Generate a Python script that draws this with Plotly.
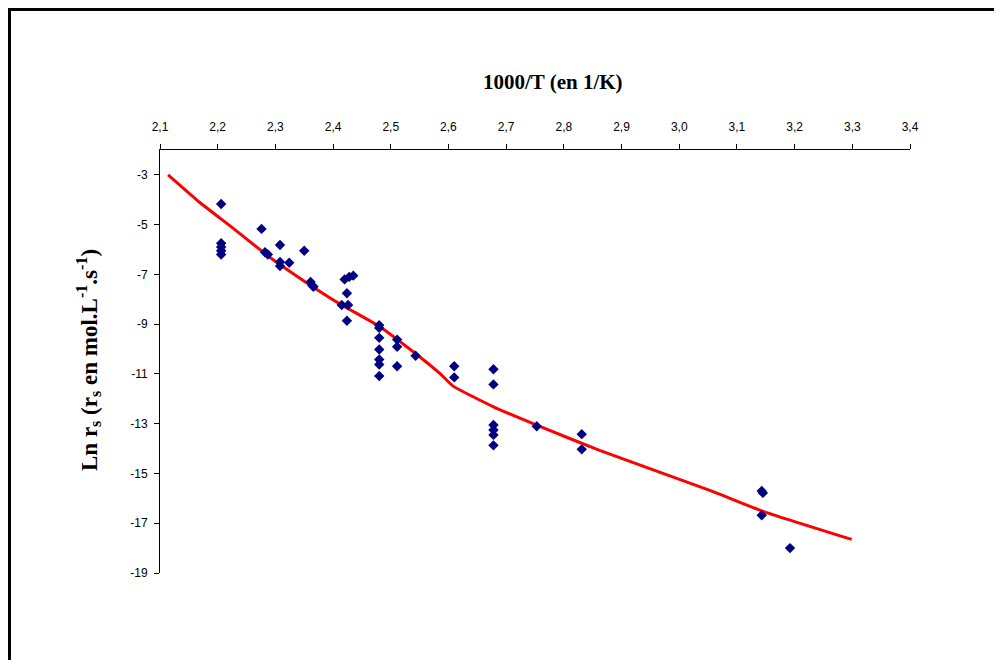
import plotly.graph_objects as go

# Measured points: 1000/T (1/K) and Ln r_s
pts_x = [2.206, 2.206, 2.206, 2.206, 2.206,
         2.276, 2.282, 2.287,
         2.308, 2.308, 2.308, 2.324, 2.350,
         2.361, 2.364, 2.366,
         2.420, 2.428, 2.435, 2.424, 2.415, 2.426, 2.424,
         2.480, 2.480, 2.480, 2.480, 2.480, 2.480, 2.480,
         2.511, 2.511, 2.511, 2.543,
         2.610, 2.610,
         2.678, 2.678, 2.678, 2.678, 2.678, 2.678,
         2.753, 2.831, 2.831,
         3.143, 3.145, 3.143, 3.192]
pts_y = [-4.17, -5.75, -5.90, -6.05, -6.20,
         -5.17, -6.11, -6.20,
         -5.82, -6.50, -6.66, -6.53, -6.05,
         -7.30, -7.45, -7.50,
         -7.20, -7.10, -7.05, -7.76, -8.23, -8.23, -8.86,
         -9.04, -9.15, -9.55, -10.02, -10.42, -10.62, -11.08,
         -9.62, -9.91, -10.69, -10.27,
         -10.69, -11.14,
         -10.81, -11.42, -13.05, -13.25, -13.45, -13.87,
         -13.10, -13.42, -14.03,
         -15.70, -15.78, -16.68, -18.00]

# Model curve
fit_x = [2.114, 2.169, 2.227, 2.285, 2.343, 2.412, 2.481, 2.539, 2.585, 2.608,
         2.678, 2.753, 2.862, 3.053, 3.145, 3.299]
fit_y = [-3.00, -4.11, -5.15, -6.22, -7.16, -8.19, -9.10, -10.11, -10.98, -11.49,
         -12.32, -13.06, -14.07, -15.68, -16.52, -17.65]

x_ticks = [2.1, 2.2, 2.3, 2.4, 2.5, 2.6, 2.7, 2.8, 2.9, 3.0, 3.1, 3.2, 3.3, 3.4]
x_ticklabels = ["2,1", "2,2", "2,3", "2,4", "2,5", "2,6", "2,7", "2,8", "2,9",
                "3,0", "3,1", "3,2", "3,3", "3,4"]
y_ticks = [-3, -5, -7, -9, -11, -13, -15, -17, -19]
y_ticklabels = ["-3", "-5", "-7", "-9", "-11", "-13", "-15", "-17", "-19"]

fig = go.Figure()
fig.add_trace(go.Scatter(x=fit_x, y=fit_y, mode="lines",
                         line=dict(color="#FF0000", width=3, shape="spline", smoothing=0.4),
                         showlegend=False, hoverinfo="skip"))
fig.add_trace(go.Scatter(x=pts_x, y=pts_y, mode="markers",
                         marker=dict(symbol="diamond", size=8, color="#000080"),
                         showlegend=False))

# page has an 8px body margin, so figure coordinates = screen - 8
OFF = 8
W, H = 1002 - 2 * OFF, 668 - 2 * OFF
L, T = 160 - OFF, 150 - OFF
pw, ph = 750, 423
R, B = W - L - pw, H - T - ph

def px(xs):
    return (xs - OFF - L) / pw

def py(ys):
    return (H - B - (ys - OFF)) / ph

tick_font = dict(size=12, family="Liberation Sans, Arial, sans-serif", color="black")

fig.update_layout(
    width=W, height=H,
    margin=dict(l=L, r=R, t=T, b=B),
    paper_bgcolor="white", plot_bgcolor="white",
    font=dict(family="Liberation Sans, Arial, sans-serif", size=12, color="black"),
    xaxis=dict(range=[2.1, 3.4], side="top", tickvals=x_ticks, ticktext=x_ticklabels,
               showgrid=False, zeroline=False, showline=True, linecolor="black", linewidth=1,
               ticks="outside", ticklen=5, tickcolor="black", ticklabelstandoff=8,
               tickfont=tick_font),
    yaxis=dict(range=[-19, -2], tickvals=y_ticks, ticktext=y_ticklabels,
               showgrid=False, zeroline=False, showline=True, linecolor="black", linewidth=1,
               ticks="outside", ticklen=5, tickcolor="black", ticklabelstandoff=4,
               tickfont=tick_font),
    annotations=[
        dict(text="<b>1000/T (en 1/K)</b>", xref="paper", yref="paper",
             x=px(553), y=py(82), showarrow=False, xanchor="center", yanchor="middle",
             font=dict(family="Liberation Serif, Times New Roman, serif", size=21, color="black")),
        dict(text="<b>Ln r<sub>s</sub> (r<sub>s</sub> en mol.L<sup>-1</sup>.s<sup>-1</sup>)</b>",
             xref="paper", yref="paper", x=px(88), y=py(360), textangle=-90,
             showarrow=False, xanchor="center", yanchor="middle",
             font=dict(family="Liberation Serif, Times New Roman, serif", size=23, color="black")),
    ],
    shapes=[
        dict(type="line", xref="paper", yref="paper", x0=px(8), x1=px(1010), y0=py(9.5), y1=py(9.5),
             line=dict(color="black", width=3)),
        dict(type="line", xref="paper", yref="paper", x0=px(9.5), x1=px(9.5), y0=py(8), y1=py(680),
             line=dict(color="black", width=3)),
    ],
)

fig.write_html("out.html")
